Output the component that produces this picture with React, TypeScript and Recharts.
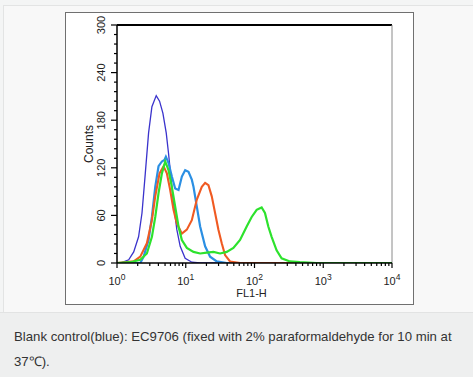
import React from 'react';
import { LineChart, Line, XAxis, YAxis, ReferenceLine } from 'recharts';

// Fluorescence (FL1-H) bin positions and counts
const blankFL = [1.0, 1.12, 1.48, 1.75, 2.06, 2.31, 2.58, 2.88, 3.22, 3.72, 4.16, 4.65, 5.2, 5.62, 6.07, 6.64, 7.42, 8.3, 9.8, 12.3, 16.2, 40];
const blankCounts = [0, 0, 4, 14, 33, 63, 113, 164, 197, 211, 204, 189, 164, 138, 109, 75, 42, 21, 6, 1, 0, 0];

const lightFL = [1.0, 2.18, 2.44, 2.88, 3.22, 3.6, 4.02, 4.5, 4.9, 5.14, 5.62, 6.28, 7.02, 7.85, 8.78, 9.81, 10.96, 12.25, 12.96, 14.49, 16.19, 19.13, 22.61, 28.25, 39.46, 60];
const lightCounts = [0, 0, 8, 29, 58, 96, 122, 128, 130, 134, 126, 109, 94, 92, 109, 117, 115, 105, 96, 71, 46, 21, 8, 2, 0, 0];

const orangeFL = [1.0, 1.75, 2.18, 2.72, 3.22, 3.6, 4.16, 4.755, 5.31, 5.94, 6.64, 7.42, 8.78, 10.37, 12.25, 14.49, 17.12, 19.13, 21.38, 23.9, 26.72, 29.87, 33.39, 37.32, 44.11, 61.6, 500];
const orangeCounts = [0, 2, 8, 25, 54, 84, 113, 122, 113, 92, 67, 50, 37, 42, 54, 80, 96, 101, 98, 84, 63, 42, 25, 10, 2, 0, 0];

const greenFL = [1.0, 1.56, 2.18, 2.72, 3.22, 3.6, 4.02, 4.5, 5.03, 5.62, 6.28, 7.02, 7.85, 8.78, 10.37, 12.96, 16.19, 20.23, 25.27, 31.58, 39.46, 49.31, 61.62, 77, 91, 107.5, 127, 142, 158.8, 177.5, 209.7, 247.9, 327.5, 457, 798, 10000];
const greenCounts = [0, 1, 4, 12, 33, 58, 88, 113, 128, 117, 96, 71, 46, 29, 19, 14, 12, 13, 14, 12, 14, 19, 29, 46, 58, 67, 70, 63, 46, 33, 16, 6, 2, 1, 0, 0];

const xTicks = [1, 2, 3, 4, 5, 6, 7, 8, 9, 10, 20, 30, 40, 50, 60, 70, 80, 90, 100, 200, 300, 400, 500, 600, 700, 800, 900, 1000, 2000, 3000, 4000, 5000, 6000, 7000, 8000, 9000, 10000];
const xMajor = [1, 10, 100, 1000, 10000];
const xMajorExp = ['0', '1', '2', '3', '4'];
const yTicks = [0, 12, 24, 36, 48, 60, 72, 84, 96, 108, 120, 132, 144, 156, 168, 180, 192, 204, 216, 228, 240, 252, 264, 276, 288, 300];
const yLabels = [0, 60, 120, 180, 240, 300];

const caption1 = 'Blank control(blue): EC9706 (fixed with 2% paraformaldehyde for 10 min at';
const caption2 = '37\u2103).';

const FONT = "'Liberation Sans', Arial, Helvetica, sans-serif";

const toPoints = (fl: number[], counts: number[]) => fl.map((v, i) => ({ fl: v, count: counts[i] }));
const blankData = toPoints(blankFL, blankCounts);
const lightData = toPoints(lightFL, lightCounts);
const orangeData = toPoints(orangeFL, orangeCounts);
const greenData = toPoints(greenFL, greenCounts);

const XTick = (props: any) => {
  const { x, y, payload } = props;
  const v = payload.value;
  const idx = xMajor.indexOf(v);
  const major = idx >= 0;
  return (
    <g>
      <line x1={x} x2={x} y1={y} y2={y + (major ? 5 : 3)} stroke="#000" strokeWidth={1.2} />
      {major && (
        <text x={x} y={y + 22} textAnchor="middle" fontSize={11} fill="#222" fontFamily={FONT}>
          10<tspan dy={-5} fontSize={8.5}>{xMajorExp[idx]}</tspan>
        </text>
      )}
    </g>
  );
};

const YTick = (props: any) => {
  const { x, y, payload } = props;
  const v = payload.value;
  const major = yLabels.includes(v);
  const tx = x - 12;
  return (
    <g>
      <line x1={x - (major ? 6 : 3)} x2={x} y1={y} y2={y} stroke="#000" strokeWidth={1.2} />
      {major && (
        <text x={tx} y={y} transform={`rotate(-90 ${tx} ${y})`} textAnchor="middle" fontSize={11} fill="#222" fontFamily={FONT}>
          {v}
        </text>
      )}
    </g>
  );
};

const CountsLabel = (props: any) => {
  const vb = props.viewBox || { x: 0, y: 25, width: 117, height: 238 };
  const cx = vb.x + vb.width - 24;
  const cy = vb.y + vb.height / 2;
  return (
    <text x={cx} y={cy} transform={`rotate(-90 ${cx} ${cy})`} textAnchor="middle" fontSize={12} fill="#222" fontFamily={FONT}>
      Counts
    </text>
  );
};

const FLLabel = (props: any) => {
  const vb = props.viewBox || { x: 117, y: 263, width: 275, height: 30 };
  return (
    <text x={vb.x + vb.width / 2 - 3} y={vb.y + 34} textAnchor="middle" fontSize={11} fill="#222" fontFamily={FONT}>
      FL1-H
    </text>
  );
};

export default function App() {
  return (
    <div style={{ position: 'absolute', left: 0, top: 0, width: 473, height: 377, background: '#f4f5f5', overflow: 'hidden', fontFamily: FONT }}>
      <div style={{ position: 'absolute', left: 3, top: 5, width: 470, height: 307, background: '#f8f8f8', borderTop: '1px solid #e3e4e4', borderLeft: '1px solid #e3e4e4', boxSizing: 'border-box' }} />
      <div style={{ position: 'absolute', left: 65, top: 12, width: 349, height: 293, background: '#fff', border: '1.5px solid #707070', boxSizing: 'border-box' }} />
      <div style={{ position: 'absolute', left: 0, top: 0 }}>
        <LineChart width={473} height={312} margin={{ top: 25, right: 81, bottom: 19, left: 0 }}>
          <XAxis
            dataKey="fl"
            type="number"
            scale="log"
            domain={[1, 10000]}
            allowDataOverflow
            ticks={xTicks}
            interval={0}
            tickSize={0}
            tickMargin={0}
            tick={<XTick />}
            axisLine={{ stroke: '#000', strokeWidth: 1.5 }}
            height={30}
            label={FLLabel}
          />
          <YAxis
            type="number"
            domain={[0, 300]}
            allowDataOverflow
            ticks={yTicks}
            interval={0}
            tickSize={0}
            tickMargin={0}
            tick={<YTick />}
            axisLine={{ stroke: '#000', strokeWidth: 1.5 }}
            width={117}
            label={CountsLabel}
          />
          <ReferenceLine y={300} stroke="#000" strokeWidth={2} ifOverflow="visible" />
          <ReferenceLine x={10000} stroke="#8a8a8a" strokeWidth={1} ifOverflow="visible" />
          <Line data={blankData} dataKey="count" type="linear" stroke="#3a33cc" strokeWidth={1.3} dot={false} isAnimationActive={false} />
          <Line data={lightData} dataKey="count" type="linear" stroke="#2b8fe3" strokeWidth={2.2} dot={false} isAnimationActive={false} />
          <Line data={orangeData} dataKey="count" type="linear" stroke="#f05a22" strokeWidth={2.1} dot={false} isAnimationActive={false} />
          <Line data={greenData} dataKey="count" type="linear" stroke="#2de22d" strokeWidth={2.2} dot={false} isAnimationActive={false} />
        </LineChart>
      </div>
      <div style={{ position: 'absolute', left: 0, top: 312, width: 473, height: 65, background: '#eeefef', borderTop: '1px solid #e2e3e3', boxSizing: 'border-box' }} />
      <div style={{ position: 'absolute', left: 14, top: 324, fontSize: 13.2, lineHeight: '25px', color: '#333', whiteSpace: 'nowrap' }}>
        {caption1}
        <br />
        {caption2}
      </div>
    </div>
  );
}
